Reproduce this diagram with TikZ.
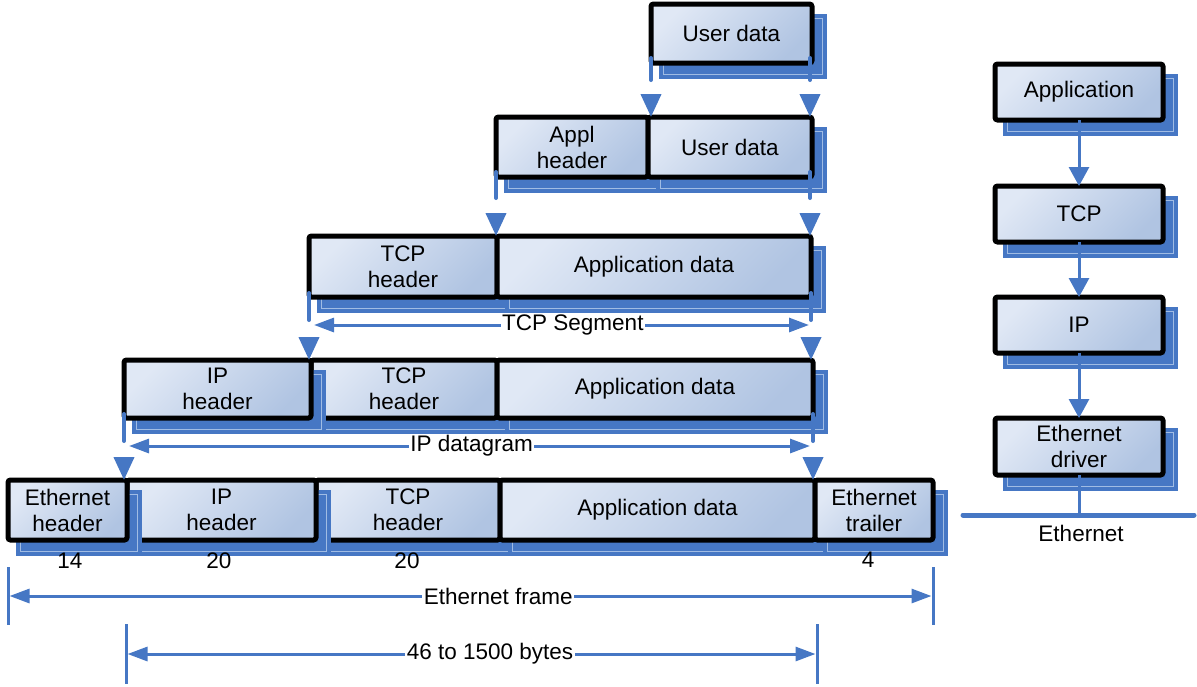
\documentclass[tikz,border=0pt]{standalone}
\usepackage{fontspec}
\setmainfont{Liberation Sans}
\usetikzlibrary{arrows.meta,calc}

\definecolor{netblue}{RGB}{70,119,196}
\definecolor{celltop}{RGB}{224,232,245}
\definecolor{cellbot}{RGB}{176,196,226}
\definecolor{shadowrule}{RGB}{160,188,228}
\newcommand\labelfont{\fontsize{22.5}{26}\selectfont}

\tikzset{
  pkt/.style={draw=black, line width=5pt, rounded corners=2.5pt,
    top color=celltop, bottom color=cellbot, shading angle=45,
    inner sep=0pt, outer sep=0pt, align=center, font=\labelfont},
  pktshadow/.style={fill=netblue},
  pktrule/.style={draw=shadowrule, line width=0.6pt},
  encap/.style={draw=netblue, line width=4pt, line cap=round,
    -{Triangle[length=23pt,width=20pt]}},
  dimarrow/.style={draw=netblue, line width=3pt,
    {Triangle[length=20pt,width=14pt]}-{Triangle[length=20pt,width=14pt]}},
  dimbar/.style={draw=netblue, line width=3pt},
  stackarrow/.style={draw=netblue, line width=3pt,
    -{Triangle[length=19pt,width=20pt]}},
  dimlabel/.style={fill=white, inner sep=1.5pt, font=\labelfont},
  txt/.style={inner sep=0pt, font=\labelfont},
}

% one field of a packet: blue drop shadow, then the bordered cell
% #1 name, #2 left, #3 top, #4 right, #5 bottom, #6 text
\newcommand\packetcell[6]{%
  \fill[pktshadow] (#2+8,#3+10) rectangle (#4+15,#5+16);
  \draw[pktrule] (#2+12.5,#3+14.5) rectangle (#4+10.5,#5+11.5);
  \node[pkt, minimum width={#4-#2}, minimum height={#5-#3}] (#1)
    at ({(#2+#4)/2},{(#3+#5)/2}) {#6};
}

\begin{document}
\begin{tikzpicture}[x=1pt,y=-1pt]
\useasboundingbox (0,0) rectangle (1197,686);

% ---- application layer
\packetcell{ud1}{651}{4}{812}{63}{User data}

% ---- application data
\packetcell{ah2}{496}{117}{648}{177}{Appl\\header}
\packetcell{ud2}{648}{117}{812}{177}{User data}

% ---- TCP segment
\packetcell{th3}{309}{236}{497}{297}{TCP\\header}
\packetcell{ad3}{497}{236}{811}{297}{Application data}

% ---- IP datagram
\packetcell{th4}{311}{360}{497}{418}{TCP\\header}
\packetcell{ad4}{497}{360}{813}{418}{Application data}
\packetcell{ih4}{124}{360}{311}{418}{IP\\header}

% ---- Ethernet frame
\packetcell{th5}{316}{480}{500}{540}{TCP\\header}
\packetcell{ad5}{500}{480}{815}{540}{Application data}
\packetcell{et5}{815}{480}{933}{540}{Ethernet\\trailer}
\packetcell{ih5}{127}{480}{316}{540}{IP\\header}
\packetcell{eh5}{8}{480}{127}{540}{Ethernet\\header}

% ---- protocol stack
\packetcell{app}{995}{64}{1163}{120}{Application}
\packetcell{tcp}{995}{186}{1163}{242}{TCP}
\packetcell{ip}{995}{297}{1163}{353}{IP}
\packetcell{drv}{995}{418}{1163}{475}{Ethernet\\driver}

% ---- encapsulation connectors
\draw[encap, dash pattern=on 22pt off 400pt]
  ($(ud1.south west)+(0,-5)$) -- (ud1.south west |- ud2.north);
\draw[encap, dash pattern=on 22pt off 400pt]
  ($(ud1.south east)+(-2,-5)$) -- ($(ud2.north east)+(-2,0)$);
\draw[encap, dash pattern=on 26pt off 400pt]
  ($(ah2.south west)+(0,-5)$) -- (ah2.south west |- th3.north);
\draw[encap, dash pattern=on 26pt off 400pt]
  ($(ud2.south east)+(-2,-5)$) -- ($(ad3.north east)+(-1,0)$);
\draw[encap, dash pattern=on 27pt off 400pt]
  ($(th3.south west)+(0,-4)$) -- (th3.south west |- ih4.north);
\draw[encap, dash pattern=on 27pt off 400pt]
  ($(ad3.south east)+(0,-4)$) -- ($(ad4.north east)+(-2,0)$);
\draw[encap, dash pattern=on 27pt off 400pt]
  ($(ih4.south west)+(0,-4)$) -- (ih4.south west |- eh5.north);
\draw[encap, dash pattern=on 27pt off 400pt]
  ($(ad4.south east)+(0,-4)$) -- ($(ad5.north east)+(-2,0)$);

% ---- segment and datagram extents
\draw[dimarrow] ($(th3.south west)+(5,28)$)
  -- node[dimlabel, pos=.523] {TCP Segment} ($(ad3.south east)+(-2,28)$);
\draw[dimarrow] ($(ih4.south west)+(5,28)$)
  -- node[dimlabel, pos=.503] {IP datagram} ($(ad4.south east)+(-3,28)$);

% ---- field sizes
\node[txt] (n14) at (70,561) {14};
\node[txt] (n20a) at (219,561) {20};
\node[txt] (n20b) at (407,561) {20};
\node[txt] (n4) at (868,560) {4};

% ---- frame length
\coordinate (efL) at (8,596);
\coordinate (efR) at (933,596);
\draw[dimbar] ($(efL)+(0,-29)$) -- ($(efL)+(0,29)$);
\draw[dimbar] ($(efR)+(0,-29)$) -- ($(efR)+(0,29)$);
\draw[dimarrow] ($(efL)+(1.5,0)$)
  -- node[dimlabel, pos=.53] {Ethernet frame} ($(efR)+(-1.5,0)$);

% ---- payload length
\coordinate (plL) at (126,654);
\coordinate (plR) at (817,654);
\draw[dimbar] ($(plL)+(0,-30)$) -- ($(plL)+(0,30)$);
\draw[dimbar] ($(plR)+(0,-30)$) -- ($(plR)+(0,30)$);
\draw[dimarrow] ($(plL)+(1.5,0)$)
  -- node[dimlabel, pos=.527] {46 to 1500 bytes} ($(plR)+(-1.5,0)$);

% ---- stack connectors and the wire
\draw[stackarrow] (app.south) -- (tcp.north);
\draw[stackarrow] (tcp.south) -- (ip.north);
\draw[stackarrow] (ip.south) -- (drv.north);
\coordinate (busL) at (963,515);
\coordinate (busR) at (1194,515);
\draw[draw=netblue, line width=3pt] (drv.south) -- (drv.south |- busL);
\draw[draw=netblue, line width=5pt, line cap=round] (busL) -- (busR);
\node[txt] (wire) at (1081,533) {Ethernet};

\end{tikzpicture}
\end{document}
